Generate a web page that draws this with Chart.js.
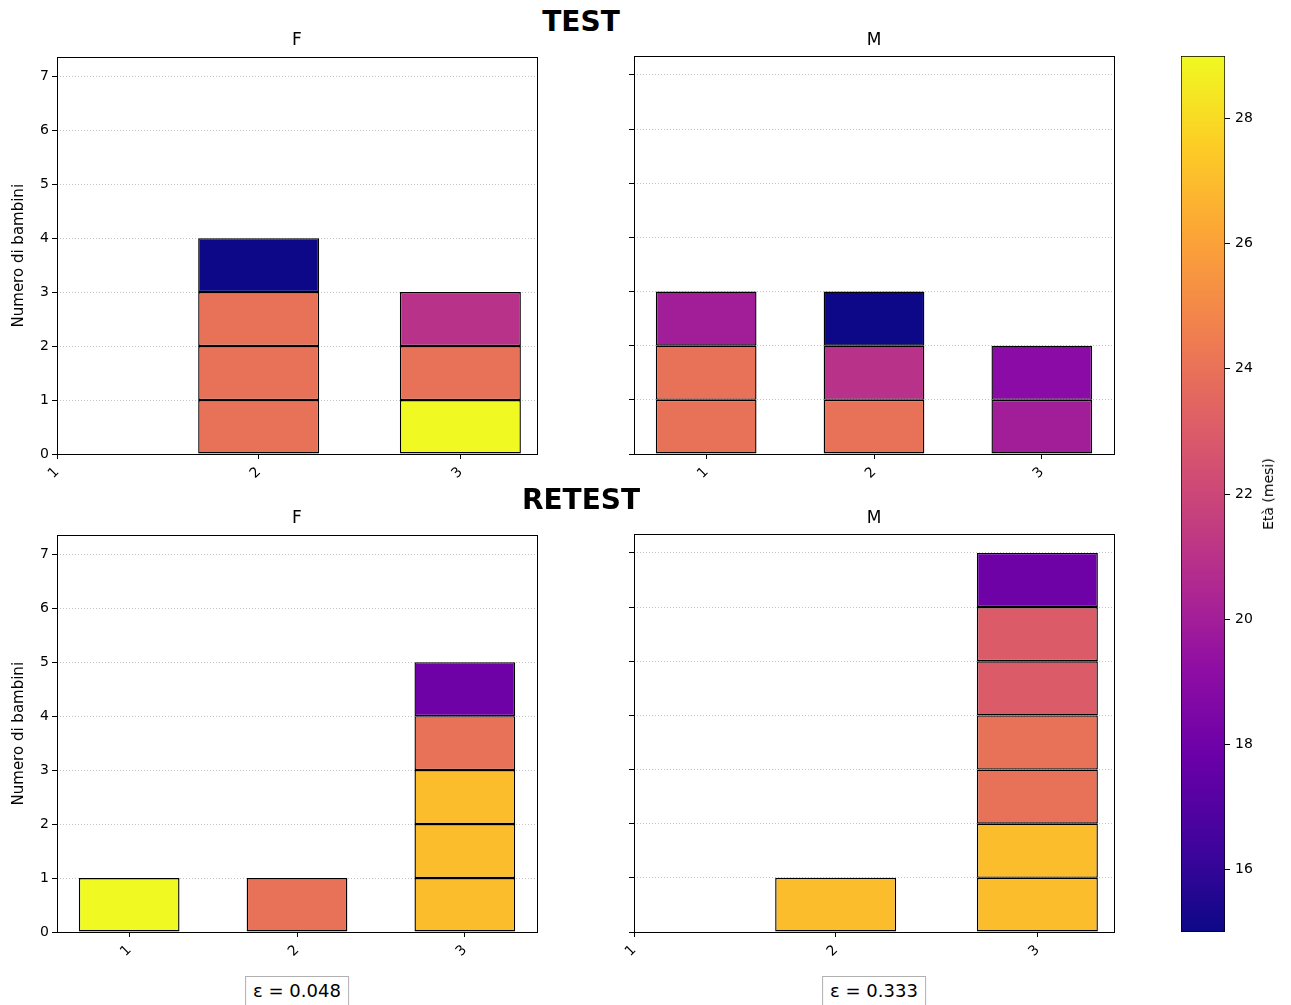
<!DOCTYPE html>
<html>
<head>
<meta charset="utf-8">
<script src="https://cdn.jsdelivr.net/npm/chart.js@4.4.1/dist/chart.umd.min.js"></script>
<style>
  html, body { margin: 0; padding: 0; background: #fff; }
  body { width: 1291px; height: 1005px; overflow: hidden; position: relative;
         font-family: 'DejaVu Sans', sans-serif; color: #000; }
  canvas { position: absolute; }
  .txt { position: absolute; transform: translate(-50%, -50%); white-space: nowrap; line-height: 1; }
  .sup { font-size: 28px; font-weight: bold; }
  .sub { font-size: 17px; }
  .eps { font-size: 18px; line-height: 22px; padding: 3px 7px; border: 1px solid #b0b0b0; background: #fff; }
  .cblabel { font-size: 14px; transform: translate(-50%, -50%) rotate(-90deg); }
</style>
</head>
<body>
<canvas id="testF" width="560" height="450" style="left:0px;top:46px"></canvas>
<canvas id="testM" width="560" height="450" style="left:580px;top:46px"></canvas>
<canvas id="retestF" width="560" height="450" style="left:0px;top:524px"></canvas>
<canvas id="retestM" width="560" height="450" style="left:580px;top:524px"></canvas>
<canvas id="cbar" width="141" height="910" style="left:1150px;top:40px"></canvas>

<div class="txt sup" style="left:581px;top:22px">TEST</div>
<div class="txt sup" style="left:581px;top:500px">RETEST</div>
<div class="txt sub" style="left:297px;top:39px">F</div>
<div class="txt sub" style="left:874px;top:39px">M</div>
<div class="txt sub" style="left:297px;top:517px">F</div>
<div class="txt sub" style="left:874px;top:517px">M</div>
<div class="txt eps" id="epsF" style="left:297px;top:991px"></div>
<div class="txt eps" id="epsM" style="left:874px;top:991px"></div>
<div class="txt cblabel" style="left:1268px;top:494px">Età (mesi)</div>

<script>
// Categories on the x axis of every panel
const categories = [1, 2, 3];
// Age in months of each child, stacked bottom to top in each category bar
const testF = [[], [24, 24, 24, 15], [29, 24, 21]];
const testM = [[24, 24, 20], [24, 21, 15], [20, 19]];
const retestF = [[29], [24], [27, 27, 27, 24, 18]];
const retestM = [[], [27], [27, 27, 24, 24, 23, 23, 18]];
// Colour scale limits and colorbar ticks (months)
const ageRange = [15, 29];
const ageTicks = [16, 18, 20, 22, 24, 26, 28];
// Count axis ticks
const countTicks = [0, 1, 2, 3, 4, 5, 6, 7];
// Agreement values shown under the retest panels
const epsilonF = 0.048;
const epsilonM = 0.333;

// plasma colormap control points
const plasma = [
  [13, 8, 135], [65, 4, 157], [106, 0, 168], [143, 13, 164], [177, 42, 144],
  [204, 71, 120], [225, 100, 98], [242, 132, 75], [252, 166, 54], [252, 206, 37], [240, 249, 33]
];
function plasmaAt(t) {
  t = Math.max(0, Math.min(1, t));
  const p = t * (plasma.length - 1);
  const i = Math.min(Math.floor(p), plasma.length - 2);
  const f = p - i;
  const a = plasma[i], b = plasma[i + 1];
  const c = a.map((v, k) => Math.round(v + (b[k] - v) * f));
  return `rgb(${c[0]},${c[1]},${c[2]})`;
}
function ageColor(age) {
  return plasmaAt((age - ageRange[0]) / (ageRange[1] - ageRange[0]));
}

Chart.defaults.font.family = "'DejaVu Sans', sans-serif";
Chart.defaults.font.size = 14;
Chart.defaults.color = '#000';

const BAR_WIDTH = 0.6;
const maxCount = Math.max(...[testF, testM, retestF, retestM].flat().map(a => a.length));
const yMax = maxCount * 1.05;

// x limits: bar extents with 5% margins, widened to include every category tick
function xLimits(ages) {
  const used = categories.filter((c, i) => ages[i].length > 0);
  const lo = Math.min(...used) - BAR_WIDTH / 2;
  const hi = Math.max(...used) + BAR_WIDTH / 2;
  const m = 0.05 * (hi - lo);
  return [Math.min(lo - m, categories[0]), Math.max(hi + m, categories[categories.length - 1])];
}

// one floating-bar dataset per stack level
function stackDatasets(ages) {
  const levels = Math.max(...ages.map(a => a.length));
  const sets = [];
  for (let k = 0; k < levels; k++) {
    const data = [], colors = [];
    categories.forEach((c, i) => {
      if (ages[i].length > k) {
        data.push({ x: c, y: [k, k + 1] });
        colors.push(ageColor(ages[i][k]));
      }
    });
    sets.push({
      data, backgroundColor: colors, borderColor: '#000', borderWidth: 1.4,
      borderSkipped: false, grouped: false, barPercentage: BAR_WIDTH, categoryPercentage: 1
    });
  }
  return sets;
}

// axes box on all four sides
const framePlugin = {
  id: 'frame',
  afterDatasetsDraw(chart) {
    const { ctx, chartArea: a } = chart;
    ctx.save();
    ctx.strokeStyle = '#000';
    ctx.lineWidth = 1;
    const l = Math.round(a.left) + 0.5, t = Math.round(a.top) + 0.5;
    const r = Math.round(a.right) + 0.5, b = Math.round(a.bottom) + 0.5;
    ctx.strokeRect(l, t, r - l, b - t);
    ctx.restore();
  }
};

function makePanel(id, ages, box) {
  const [xmin, xmax] = xLimits(ages);
  const canvas = document.getElementById(id);
  const cw = canvas.width, ch = canvas.height;
  return new Chart(canvas, {
    type: 'bar',
    data: { datasets: stackDatasets(ages) },
    plugins: [framePlugin],
    options: {
      responsive: false, animation: false, events: [],
      layout: { padding: { left: 0, top: box.areaTop, right: cw - box.areaRight, bottom: 0 } },
      plugins: { legend: { display: false }, tooltip: { enabled: false } },
      scales: {
        x: {
          type: 'linear', min: xmin, max: xmax, offset: false,
          afterBuildTicks: s => { s.ticks = categories.map(v => ({ value: v })); },
          afterFit: s => { s.height = ch - box.areaBottom; },
          grid: { offset: false, drawOnChartArea: false, drawTicks: true, tickLength: 5, tickColor: '#000', tickWidth: 1 },
          border: { display: false },
          ticks: { minRotation: 45, maxRotation: 45, autoSkip: false, padding: 5, font: { size: 14 } }
        },
        y: {
          type: 'linear', min: 0, max: yMax,
          afterBuildTicks: s => { s.ticks = countTicks.map(v => ({ value: v })); },
          afterFit: s => { s.width = box.areaLeft; },
          grid: { color: '#c4c4c4', lineWidth: 1, tickLength: 5, tickColor: '#000', tickWidth: 1, tickBorderDash: [] },
          border: { display: false, dash: [1, 2] },
          ticks: { display: box.labels, padding: 3, font: { size: 14 } },
          title: { display: box.labels, text: 'Numero di bambini', font: { size: 15 }, padding: { top: 10, bottom: 0 } }
        }
      }
    }
  });
}

makePanel('testF', testF, { areaLeft: 57, areaRight: 537, areaTop: 10, areaBottom: 408, labels: true });
makePanel('testM', testM, { areaLeft: 54, areaRight: 534, areaTop: 10, areaBottom: 408, labels: false });
makePanel('retestF', retestF, { areaLeft: 57, areaRight: 537, areaTop: 10, areaBottom: 408, labels: true });
makePanel('retestM', retestM, { areaLeft: 54, areaRight: 534, areaTop: 10, areaBottom: 408, labels: false });

document.getElementById('epsF').textContent = 'ε = ' + epsilonF.toFixed(3);
document.getElementById('epsM').textContent = 'ε = ' + epsilonM.toFixed(3);

// colorbar: a single floating bar spanning the age range, filled with the plasma ramp
new Chart(document.getElementById('cbar'), {
  type: 'bar',
  data: {
    labels: [''],
    datasets: [{
      data: [ageRange],
      backgroundColor: (ctx) => {
        const chart = ctx.chart;
        const ys = chart.scales.y;
        if (!chart.chartArea || !ys) return '#888';
        const g = chart.ctx.createLinearGradient(0, ys.getPixelForValue(ageRange[0]), 0, ys.getPixelForValue(ageRange[1]));
        for (let i = 0; i <= 40; i++) g.addColorStop(i / 40, plasmaAt(i / 40));
        return g;
      },
      borderColor: '#000', borderWidth: 1, borderSkipped: false,
      barPercentage: 1, categoryPercentage: 1
    }]
  },
  options: {
    responsive: false, animation: false, events: [],
    layout: { padding: { left: 31, top: 16, right: 0, bottom: 18 } },
    plugins: { legend: { display: false }, tooltip: { enabled: false } },
    scales: {
      x: { display: false },
      y: {
        position: 'right', min: ageRange[0], max: ageRange[1],
        afterBuildTicks: s => { s.ticks = ageTicks.map(v => ({ value: v })); },
        afterFit: s => { s.width = 66; },
        grid: { drawOnChartArea: false, tickLength: 5, tickColor: '#000', tickWidth: 1 },
        border: { display: false },
        ticks: { padding: 5, font: { size: 14 } }
      }
    }
  }
});
</script>
</body>
</html>
